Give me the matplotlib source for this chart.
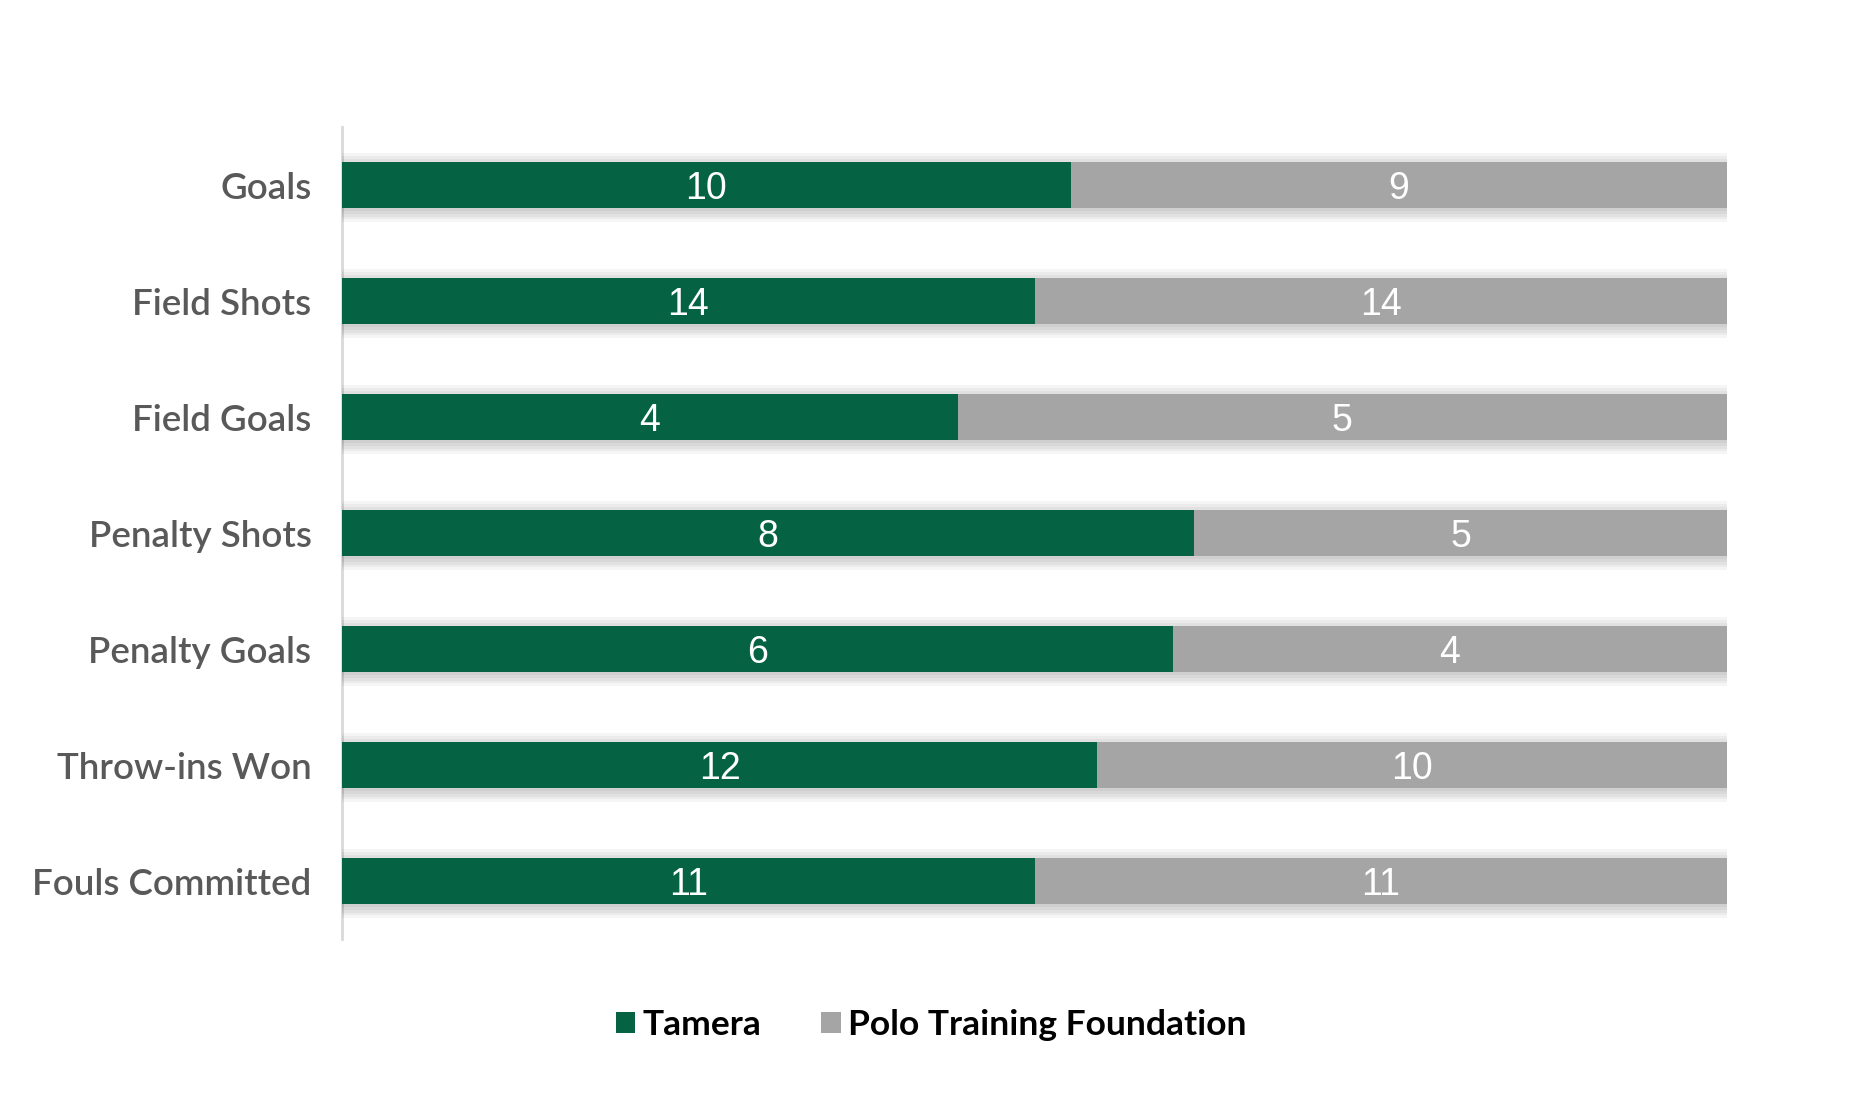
import matplotlib.pyplot as plt
import matplotlib.patheffects as pe
import numpy as np

categories = ['Goals', 'Field Shots', 'Field Goals', 'Penalty Shots',
              'Penalty Goals', 'Throw-ins Won', 'Fouls Committed']
tamera = [10, 14, 4, 8, 6, 12, 11]
polo = [9, 14, 5, 5, 4, 10, 11]
series_names = ['Tamera', 'Polo Training Foundation']
colors = ['#056343', '#a5a5a5']

tamera = np.array(tamera, dtype=float)
polo = np.array(polo, dtype=float)
total = tamera + polo
t_share = tamera / total
p_share = polo / total

fig = plt.figure(figsize=(18.51, 10.95), dpi=100)
ax = fig.add_axes([342 / 1851, 1 - 939 / 1095, (1727 - 342) / 1851, (939 - 127) / 1095])

y = np.arange(len(categories))

# soft drop shadow made of a few stacked translucent shadows
shadow = [pe.SimplePatchShadow(offset=(0, dy), shadow_rgbFace='black', alpha=0.04)
          for dy in (6, 4, 2, -2, -4, -6, -8, -10)] + [pe.Normal()]

b1 = ax.barh(y, t_share, height=0.4, color=colors[0], label=series_names[0],
             path_effects=shadow, zorder=3)
b2 = ax.barh(y, p_share, left=t_share, height=0.4, color=colors[1],
             label=series_names[1], path_effects=shadow, zorder=2)

for bars, vals in ((b1, tamera), (b2, polo)):
    txts = ax.bar_label(bars, labels=[f'{int(v)}' for v in vals], label_type='center',
                        color='white', fontsize=27, family='Liberation Sans')
    for t in txts:
        t.set_va('center_baseline')

ax.set_xlim(0, 1)
ax.set_ylim(len(categories) - 0.5, -0.5)
ax.set_yticks(y)
ax.set_yticklabels(categories, fontsize=26.5, color='#595959', family='Lato',
                   fontweight='semibold')
ax.tick_params(axis='y', length=0, pad=22)
ax.set_xticks([])
for s in ('top', 'right', 'bottom'):
    ax.spines[s].set_visible(False)
ax.spines['left'].set_color('#d9d9d9')
ax.spines['left'].set_linewidth(2)

leg = fig.legend(handles=[b1, b2], labels=series_names, loc='center',
                 bbox_to_anchor=(0.503, 1 - 1025 / 1095), ncol=2, frameon=False,
                 prop={'family': 'Lato', 'size': 25.5, 'weight': 'bold'},
                 handlelength=0.55, handleheight=0.55, handletextpad=0.2,
                 columnspacing=1.7)
for h in leg.legend_handles:
    h.set_path_effects([pe.Normal()])

fig.savefig('out.png', dpi=100)
